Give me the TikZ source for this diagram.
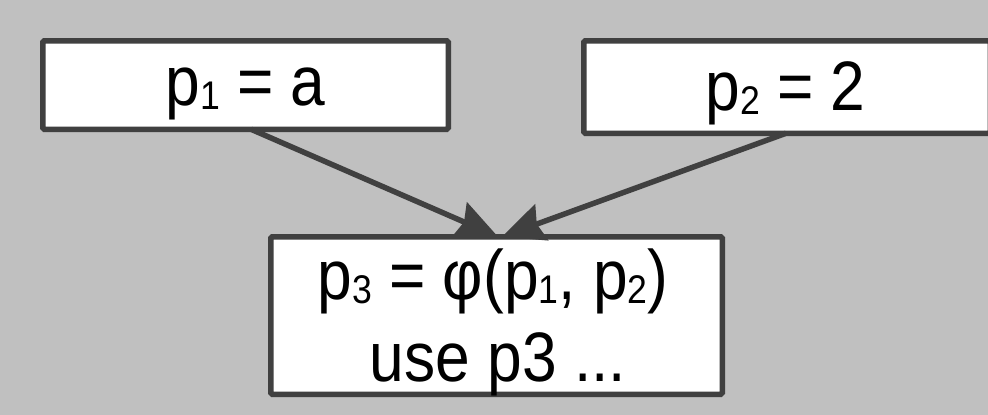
\documentclass[tikz,border=0pt]{standalone}
\usepackage{fontspec}
\setmainfont{Liberation Sans}[FakeStretch=0.89]
\usetikzlibrary{arrows.meta}
\definecolor{bg}{HTML}{C0C0C0}
\definecolor{edgecol}{HTML}{404040}
\newcommand{\subx}[1]{\raisebox{-4pt}{\fontsize{40}{40}\selectfont #1}}
\begin{document}
\begin{tikzpicture}[x=1pt,y=-1pt,
  box/.style={draw=edgecol, fill=white, line width=5.5pt, rounded corners=1.5pt, inner sep=0pt, outer sep=0pt},
  lbl/.style={anchor=base, inner sep=0pt, font=\fontsize{70}{80}\selectfont},
  conn/.style={draw=edgecol, line width=5.5pt, -{Stealth[length=42pt,width=38pt,inset=5pt]}}]
\fill[bg] (0,0) rectangle (988,415);
\useasboundingbox (0,0) rectangle (988,415);
\clip (0,0) rectangle (988,415);
\node[box, minimum width=405.5pt, minimum height=88.5pt] (b1) at (245.5,85) {};
\node[box, minimum width=406.5pt, minimum height=92.5pt] (b2) at (787,87) {};
\node[box, minimum width=451.5pt, minimum height=157.5pt] (b3) at (496.5,315.5) {};
\node[lbl] (t1) at (245.5,105.5) {p\subx{1} = a};
\node[lbl] (t2) at (785.5,110) {p\subx{2} = 2};
\node[lbl] (t3) at (493,299) {p\subx{3} = φ(p\subx{1}, p\subx{2})};
\node[lbl] (t4) at (498,381) {use p3 ...};
\draw[conn] ([xshift=5.5pt]b1.south) -- ([xshift=1.5pt]b3.north);
\draw[conn] ([xshift=-1pt]b2.south) -- ([xshift=5.5pt]b3.north);
\end{tikzpicture}
\end{document}
